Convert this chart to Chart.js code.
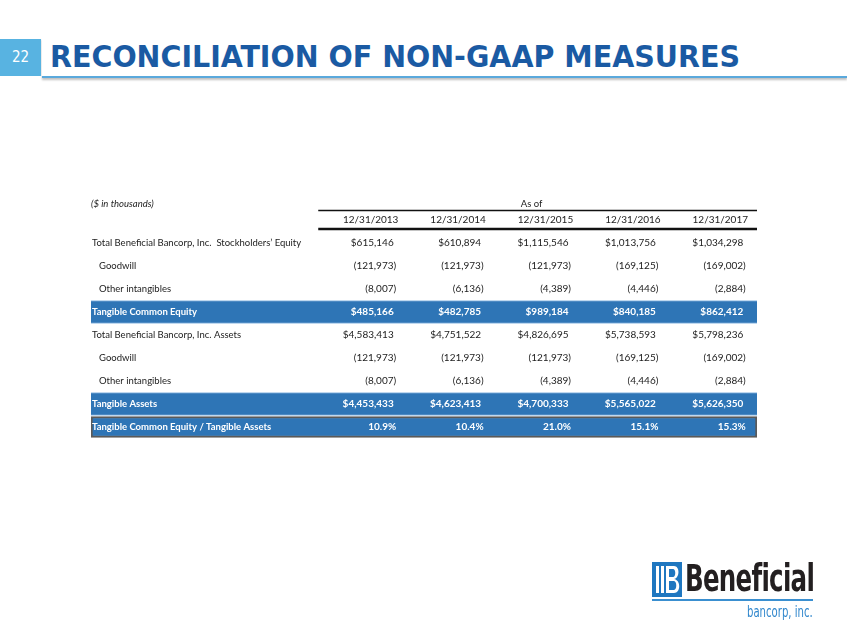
<!DOCTYPE html>
<html>
<head>
<meta charset="utf-8">
<script src="https://cdn.jsdelivr.net/npm/chart.js@4.4.1/dist/chart.umd.min.js"></script>
<style>
  html, body { margin: 0; padding: 0; background: #fff; }
  body { width: 847px; height: 635px; position: relative; overflow: hidden; font-family: Lato, sans-serif; }
  #pageNo { position: absolute; left: 0; top: 39px; width: 41px; height: 37px; background: #58b3e1; color: #fff;
    font: 15px "DejaVu Sans Condensed", sans-serif; line-height: 37px; text-align: center; }
  #titleBar { position: absolute; left: 42px; top: 38px; right: 0; height: 38px; border-bottom: 2px solid #5aa9dc;
    box-shadow: 0 2px 2px rgba(0,0,0,0.25); background: #fff; }
  #title { position: absolute; left: 50px; top: 36px; height: 40px; line-height: 42px; color: #1a5aa3;
    font-weight: bold; font-size: 30px; font-family: "DejaVu Sans Condensed", sans-serif; white-space: nowrap; transform-origin: 0 50%; }
  #table { position: absolute; left: 0; top: 0; }
  #logo { position: absolute; left: 652px; top: 562px; width: 165px; height: 60px; }
  #logo .word { position: absolute; left: 33px; top: 0; line-height: 34px; font-weight: bold; font-size: 37px;
    font-family: "DejaVu Sans Condensed", sans-serif; color: #231f20; white-space: nowrap; transform-origin: 0 50%; letter-spacing: -1px; }
  #logo .rule { position: absolute; left: 0; top: 37px; width: 161px; height: 2px; background: #3a8fd0; }
  #logo .sub { position: absolute; left: 95px; top: 41px; line-height: 18px; font-size: 16px;
    font-family: "DejaVu Sans Condensed", sans-serif; color: #2f86cc; white-space: nowrap; transform-origin: 0 50%; }
</style>
</head>
<body>
<div id="titleBar"></div>
<div id="pageNo">22</div>
<div id="title">RECONCILIATION OF NON-GAAP MEASURES</div>
<canvas id="table" width="847" height="635"></canvas>
<div id="logo">
  <svg width="30" height="35" viewBox="0 0 30 35" style="position:absolute;left:0;top:0">
    <rect x="0" y="0" width="30" height="35" fill="#1f77c0"/>
    <rect x="4" y="4" width="3" height="27" fill="#fff"/>
    <rect x="9" y="4" width="3" height="27" fill="#fff"/>
    <path d="M14 4 H22 C28 4 28 16 22 17 C29 18 29 31 22 31 H14 Z M17 7 V15 H21 C24 15 24 7 21 7 Z M17 19 V28 H22 C25 28 25 19 22 19 Z" fill="#fff" fill-rule="evenodd"/>
  </svg>
  <div class="word" id="logoWord">Beneficial</div>
  <div class="rule"></div>
  <div class="sub" id="logoSub">bancorp, inc.</div>
</div>
<script>
// ($ in thousands)
const periods = ["12/31/2013", "12/31/2014", "12/31/2015", "12/31/2016", "12/31/2017"];
const rowLabels = [
  "Total Beneficial Bancorp, Inc.  Stockholders\u2019 Equity",
  "Goodwill",
  "Other intangibles",
  "Tangible Common Equity",
  "Total Beneficial Bancorp, Inc. Assets",
  "Goodwill",
  "Other intangibles",
  "Tangible Assets",
  "Tangible Common Equity / Tangible Assets"
];
const stockholdersEquity = [615146, 610894, 1115546, 1013756, 1034298];
const goodwill = [-121973, -121973, -121973, -169125, -169002];
const otherIntangibles = [-8007, -6136, -4389, -4446, -2884];
const tangibleCommonEquity = [485166, 482785, 989184, 840185, 862412];
const totalAssets = [4583413, 4751522, 4826695, 5738593, 5798236];
const tangibleAssets = [4453433, 4623413, 4700333, 5565022, 5626350];
const tceRatio = [10.9, 10.4, 21.0, 15.1, 15.3];

// one entry per row: values, format, indented, highlighted
const rows = [
  { values: stockholdersEquity, fmt: "usd" },
  { values: goodwill, fmt: "num", indent: true },
  { values: otherIntangibles, fmt: "num", indent: true },
  { values: tangibleCommonEquity, fmt: "usd", band: true },
  { values: totalAssets, fmt: "usd" },
  { values: goodwill, fmt: "num", indent: true },
  { values: otherIntangibles, fmt: "num", indent: true },
  { values: tangibleAssets, fmt: "usd", band: true },
  { values: tceRatio, fmt: "pct", ratio: true }
];

const yLabels = ["As of"].concat(rowLabels);
const X_MIN = -2.2, X_MAX = 5.42;
const FONT = "Lato, sans-serif";
const BLUE = "#2e75b6";

function fmt(v, kind) {
  if (kind === "pct") return v.toFixed(1) + "%";
  const s = Math.abs(v).toLocaleString("en-US");
  if (v < 0) return "(" + s + ")";
  return kind === "usd" ? "$" + s : s;
}

const bandData = yLabels.map((l, i) => (i > 0 && rows[i - 1].band) ? [X_MIN, X_MAX] : null);
const ratioData = yLabels.map((l, i) => (i > 0 && rows[i - 1].ratio) ? [X_MIN, X_MAX] : null);

const tablePlugin = {
  id: "tableText",
  afterDatasetsDraw(chart) {
    const { ctx, scales: { x, y }, chartArea } = chart;
    const y0 = y.getPixelForValue(0);
    ctx.save();
    ctx.textBaseline = "middle";

    // caption row
    ctx.fillStyle = "#222";
    ctx.font = "italic 9.5px " + FONT;
    ctx.textAlign = "left";
    ctx.fillText("($ in thousands)", chartArea.left, y0 - 16);
    ctx.font = "9.5px " + FONT;
    ctx.textAlign = "center";
    ctx.fillText("As of", x.getPixelForValue(2.84), y0 - 16);

    // header rules
    ctx.strokeStyle = "#111";
    ctx.lineWidth = 1.3;
    ctx.beginPath();
    ctx.moveTo(x.getPixelForValue(0.4), y0 - 9.5);
    ctx.lineTo(chartArea.right, y0 - 9.5);
    ctx.stroke();
    ctx.lineWidth = 2.4;
    ctx.beginPath();
    ctx.moveTo(x.getPixelForValue(0.4), y0 + 9);
    ctx.lineTo(chartArea.right, y0 + 9);
    ctx.stroke();

    // period headings
    ctx.font = "10px " + FONT;
    periods.forEach((p, i) => ctx.fillText(p, x.getPixelForValue(i + 1), y0));

    // body rows
    rows.forEach((r, ri) => {
      const py = y.getPixelForValue(ri + 1);
      const hi = r.band || r.ratio;
      ctx.fillStyle = hi ? "#fff" : "#222";
      ctx.font = (hi ? "bold " : "") + "9.5px " + FONT;
      ctx.textAlign = "left";
      ctx.fillText(rowLabels[ri], chartArea.left + (r.indent ? 8 : 1), py);
      ctx.font = (hi ? "bold " : "") + "10px " + FONT;
      ctx.textAlign = "right";
      r.values.forEach((v, ci) => {
        const off = (v < 0 || r.fmt === "pct") ? 25.5 : 23;
        ctx.fillText(fmt(v, r.fmt), x.getPixelForValue(ci + 1) + off, py);
      });
    });
    ctx.restore();
  }
};

new Chart(document.getElementById("table"), {
  type: "bar",
  data: {
    labels: yLabels,
    datasets: [
      { label: "Subtotals", data: bandData, backgroundColor: BLUE, borderColor: "#8fbbe3",
        borderWidth: { top: 1, bottom: 1, left: 0, right: 0 }, borderSkipped: false, barThickness: 23, grouped: false },
      { label: "Ratio", data: ratioData, backgroundColor: BLUE, borderColor: "#5a5a5a",
        borderWidth: 2, borderSkipped: false, barThickness: 21, grouped: false }
    ]
  },
  options: {
    indexAxis: "y",
    responsive: false,
    animation: false,
    layout: { padding: { left: 91, right: 90, top: 208.5, bottom: 196.5 } },
    plugins: { legend: { display: false }, tooltip: { enabled: false } },
    scales: {
      x: { type: "linear", min: X_MIN, max: X_MAX, display: false },
      y: { type: "category", display: false, offset: true }
    }
  },
  plugins: [tablePlugin]
});

// squeeze text blocks horizontally to the widths they take on the slide
function fit(id, width) {
  const el = document.getElementById(id);
  el.style.transform = "scaleX(" + (width / el.offsetWidth) + ")";
}
fit("title", 690);
fit("logoWord", 129);
fit("logoSub", 66);
</script>
</body>
</html>
